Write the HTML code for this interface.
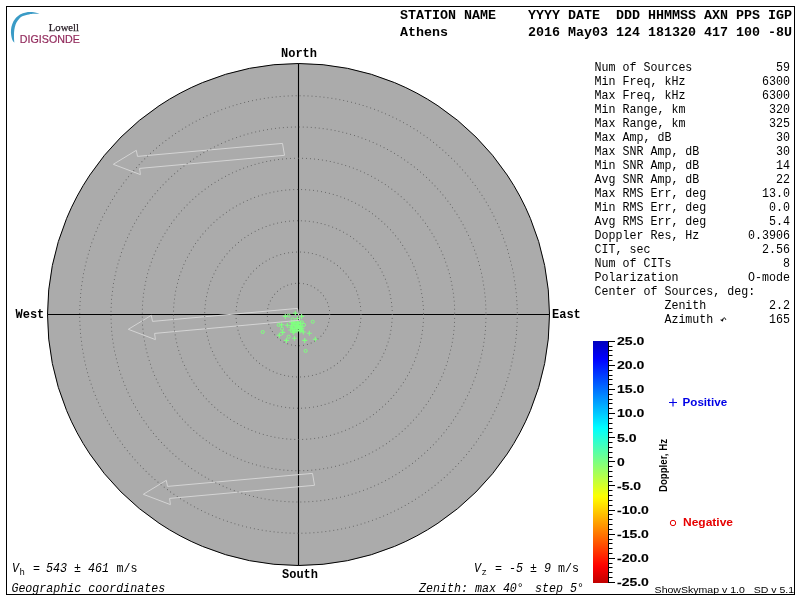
<!DOCTYPE html>
<html><head><meta charset="utf-8"><style>
html,body{margin:0;padding:0;background:#fff;width:800px;height:600px;overflow:hidden}
svg{display:block;will-change:transform}
.mono{font-family:"Liberation Mono",monospace}
.sans{font-family:"Liberation Sans",sans-serif}
</style></head><body>
<svg width="800" height="600" viewBox="0 0 800 600">
<defs><linearGradient id="jet" x1="0" y1="0" x2="0" y2="1"><stop offset="0.0000" stop-color="#0000bc"/><stop offset="0.0156" stop-color="#0000ca"/><stop offset="0.0312" stop-color="#0000d8"/><stop offset="0.0469" stop-color="#0000e6"/><stop offset="0.0625" stop-color="#0000f4"/><stop offset="0.0781" stop-color="#0003ff"/><stop offset="0.0938" stop-color="#0011ff"/><stop offset="0.1094" stop-color="#001fff"/><stop offset="0.1250" stop-color="#002dff"/><stop offset="0.1406" stop-color="#003bff"/><stop offset="0.1562" stop-color="#0049ff"/><stop offset="0.1719" stop-color="#0057ff"/><stop offset="0.1875" stop-color="#0065ff"/><stop offset="0.2031" stop-color="#0073ff"/><stop offset="0.2188" stop-color="#0081ff"/><stop offset="0.2344" stop-color="#008fff"/><stop offset="0.2500" stop-color="#009dff"/><stop offset="0.2656" stop-color="#00abff"/><stop offset="0.2812" stop-color="#00b9ff"/><stop offset="0.2969" stop-color="#00c6ff"/><stop offset="0.3125" stop-color="#00d4ff"/><stop offset="0.3281" stop-color="#00e2ff"/><stop offset="0.3438" stop-color="#00f0ff"/><stop offset="0.3594" stop-color="#00feff"/><stop offset="0.3750" stop-color="#0dfff1"/><stop offset="0.3906" stop-color="#1bffe3"/><stop offset="0.4062" stop-color="#29ffd5"/><stop offset="0.4219" stop-color="#37ffc7"/><stop offset="0.4375" stop-color="#45ffb9"/><stop offset="0.4531" stop-color="#53ffab"/><stop offset="0.4688" stop-color="#61ff9d"/><stop offset="0.4844" stop-color="#6fff8f"/><stop offset="0.5000" stop-color="#7dff81"/><stop offset="0.5156" stop-color="#8bff73"/><stop offset="0.5312" stop-color="#99ff65"/><stop offset="0.5469" stop-color="#a7ff57"/><stop offset="0.5625" stop-color="#b5ff49"/><stop offset="0.5781" stop-color="#c3ff3b"/><stop offset="0.5938" stop-color="#d1ff2d"/><stop offset="0.6094" stop-color="#dfff1f"/><stop offset="0.6250" stop-color="#edff11"/><stop offset="0.6406" stop-color="#fbff03"/><stop offset="0.6562" stop-color="#fff400"/><stop offset="0.6719" stop-color="#ffe600"/><stop offset="0.6875" stop-color="#ffd900"/><stop offset="0.7031" stop-color="#ffcb00"/><stop offset="0.7188" stop-color="#ffbd00"/><stop offset="0.7344" stop-color="#ffaf00"/><stop offset="0.7500" stop-color="#ffa100"/><stop offset="0.7656" stop-color="#ff9300"/><stop offset="0.7812" stop-color="#ff8500"/><stop offset="0.7969" stop-color="#ff7700"/><stop offset="0.8125" stop-color="#ff6900"/><stop offset="0.8281" stop-color="#ff5b00"/><stop offset="0.8438" stop-color="#ff4d00"/><stop offset="0.8594" stop-color="#ff3f00"/><stop offset="0.8750" stop-color="#ff3100"/><stop offset="0.8906" stop-color="#ff2300"/><stop offset="0.9062" stop-color="#ff1500"/><stop offset="0.9219" stop-color="#ff0700"/><stop offset="0.9375" stop-color="#f80000"/><stop offset="0.9531" stop-color="#ea0000"/><stop offset="0.9688" stop-color="#dc0000"/><stop offset="0.9844" stop-color="#ce0000"/><stop offset="1.0000" stop-color="#c00000"/></linearGradient></defs>
<rect x="0" y="0" width="800" height="600" fill="#fff"/>
<rect x="6.5" y="6.5" width="788" height="588" fill="none" stroke="#000" stroke-width="1"/>
<!-- logo -->
<path d="M39.40 13.70C38.17 13.43 34.23 12.32 32.00 12.10C29.77 11.88 28.00 11.98 26.00 12.40C24.00 12.82 21.80 13.53 20.00 14.60C18.20 15.67 16.50 17.20 15.20 18.80C13.90 20.40 12.90 22.37 12.20 24.20C11.50 26.03 11.17 27.97 11.00 29.80C10.83 31.63 10.97 33.50 11.20 35.20C11.43 36.90 11.87 38.73 12.40 40.00C12.93 41.27 14.07 42.33 14.40 42.80C14.35 42.33 14.17 41.30 14.10 40.00C14.03 38.70 13.97 36.67 14.00 35.00C14.03 33.33 14.03 31.75 14.30 30.00C14.57 28.25 14.98 26.13 15.60 24.50C16.22 22.87 16.88 21.58 18.00 20.20C19.12 18.82 20.47 17.17 22.30 16.20C24.13 15.23 27.05 14.80 29.00 14.40C30.95 14.00 32.27 13.92 34.00 13.80C35.73 13.68 38.50 13.72 39.40 13.70Z" fill="#3a9bc6"/>
<text x="48.8" y="30.6" font-family="Liberation Serif" font-size="11.4" fill="#2a2028" stroke="#2a2028" stroke-width="0.25" textLength="30.2" lengthAdjust="spacingAndGlyphs">Lowell</text>
<text x="19.8" y="43.3" font-family="Liberation Sans" font-size="11.6" fill="#922a5c" stroke="#922a5c" stroke-width="0.2" textLength="60" lengthAdjust="spacingAndGlyphs">DIGISONDE</text>
<!-- header -->
<g class="mono" font-weight="bold" font-size="13.333" fill="#000">
<text x="400" y="19" xml:space="preserve">STATION NAME    YYYY DATE  DDD HHMMSS AXN PPS IGP</text>
<text x="400" y="35.5" xml:space="preserve">Athens          2016 May03 124 181320 417 100 -8U</text>
</g>
<!-- plot -->
<circle cx="298.5" cy="314.5" r="251" fill="#ababab" stroke="#000" stroke-width="1"/>
<path d="M298.5 63.5V565.5M47.5 314.5H549.5" stroke="#000" stroke-width="1.1"/>
<path d="M292.8 313.3h5M295.3 310.8v5M282.8 316.4h5M285.3 313.9v5M299.1 316.4h5M301.6 313.9v5M279.1 324.7h5M281.6 322.2v5M284.8 325.3h5M287.3 322.8v5M306.8 333.3h5M309.3 330.8v5M300.8 332.0h5M303.3 329.5v5M280.2 332.4h5M282.7 329.9v5M276.8 335.3h5M279.3 332.8v5M291.9 338.3h5M294.4 335.8v5M283.9 340.4h5M286.4 337.9v5M302.2 340.4h5M304.7 337.9v5M312.8 339.3h5M315.3 336.8v5M290.8 332.4h5M293.3 329.9v5M288.2 330.0h5M290.7 327.5v5M295.1 318.5h5M297.6 316.0v5M289.0 322.5h5M291.5 320.0v5M292.0 321.8h5M294.5 319.3v5M295.0 322.3h5M297.5 319.8v5M298.0 323.0h5M300.5 320.5v5M289.5 325.5h5M292.0 323.0v5M292.5 325.0h5M295.0 322.5v5M295.5 325.6h5M298.0 323.1v5M298.5 326.2h5M301.0 323.7v5M290.5 328.5h5M293.0 326.0v5M293.5 328.0h5M296.0 325.5v5M296.5 328.8h5M299.0 326.3v5M299.5 328.3h5M302.0 325.8v5M288.5 327.3h5M291.0 324.8v5M294.5 330.5h5M297.0 328.0v5M297.5 331.0h5M300.0 328.5v5M292.0 331.0h5M294.5 328.5v5M291.0 323.5h5M293.5 321.0v5M294.0 326.5h5M296.5 324.0v5M297.0 327.0h5M299.5 324.5v5M290.0 330.0h5M292.5 327.5v5M296.0 323.5h5M298.5 321.0v5M299.0 330.0h5M301.5 327.5v5" stroke="#80ff80" stroke-width="1.1" fill="none"/>
<g fill="none" stroke="#80ff80" stroke-width="1"><circle cx="288.7" cy="315.6" r="1.55"/><circle cx="292.7" cy="319.3" r="1.55"/><circle cx="278.7" cy="324.9" r="1.55"/><circle cx="312.7" cy="321.7" r="1.55"/><circle cx="262.7" cy="332.0" r="1.55"/><circle cx="282.0" cy="328.7" r="1.55"/><circle cx="288.7" cy="336.7" r="1.55"/><circle cx="305.6" cy="350.9" r="1.55"/><circle cx="304.0" cy="324.9" r="1.55"/><circle cx="302.0" cy="322.3" r="1.55"/></g>
<g fill="none" stroke="#d4d4d4" stroke-width="1"><polygon points="282.5,143.4 137.5,156.4 136.3,150.3 113.3,164.3 140.4,174.6 139.6,168.4 284.5,155.3"/><polygon points="297.5,308.4 152.5,321.4 151.3,315.3 128.3,329.3 155.4,339.6 154.6,333.4 299.5,320.3"/><polygon points="312.5,473.4 167.5,486.4 166.3,480.3 143.3,494.3 170.4,504.6 169.6,498.4 314.5,485.3"/></g>
<g fill="none" stroke="#555" stroke-width="0.95" stroke-dasharray="0 4" stroke-linecap="round"><circle cx="298.5" cy="314.5" r="31.25"/><circle cx="298.5" cy="314.5" r="62.50"/><circle cx="298.5" cy="314.5" r="93.75"/><circle cx="298.5" cy="314.5" r="125.00"/><circle cx="298.5" cy="314.5" r="156.25"/><circle cx="298.5" cy="314.5" r="187.50"/><circle cx="298.5" cy="314.5" r="218.75"/></g>
<g class="mono" font-weight="bold" font-size="12" fill="#000">
<text x="281" y="57">North</text>
<text x="282" y="578">South</text>
<text x="15.5" y="318">West</text>
<text x="552" y="318">East</text>
</g>
<!-- stats -->
<g class="mono" font-size="12.3" fill="#000" transform="scale(0.94851,1)"><text x="626.77" y="70.6">Num of Sources</text><text x="832.89" y="70.6" text-anchor="end">59</text><text x="626.77" y="84.6">Min Freq, kHz</text><text x="832.89" y="84.6" text-anchor="end">6300</text><text x="626.77" y="98.6">Max Freq, kHz</text><text x="832.89" y="98.6" text-anchor="end">6300</text><text x="626.77" y="112.6">Min Range, km</text><text x="832.89" y="112.6" text-anchor="end">320</text><text x="626.77" y="126.6">Max Range, km</text><text x="832.89" y="126.6" text-anchor="end">325</text><text x="626.77" y="140.6">Max Amp, dB</text><text x="832.89" y="140.6" text-anchor="end">30</text><text x="626.77" y="154.6">Max SNR Amp, dB</text><text x="832.89" y="154.6" text-anchor="end">30</text><text x="626.77" y="168.6">Min SNR Amp, dB</text><text x="832.89" y="168.6" text-anchor="end">14</text><text x="626.77" y="182.6">Avg SNR Amp, dB</text><text x="832.89" y="182.6" text-anchor="end">22</text><text x="626.77" y="196.6">Max RMS Err, deg</text><text x="832.89" y="196.6" text-anchor="end">13.0</text><text x="626.77" y="210.6">Min RMS Err, deg</text><text x="832.89" y="210.6" text-anchor="end">0.0</text><text x="626.77" y="224.6">Avg RMS Err, deg</text><text x="832.89" y="224.6" text-anchor="end">5.4</text><text x="626.77" y="238.6">Doppler Res, Hz</text><text x="832.89" y="238.6" text-anchor="end">0.3906</text><text x="626.77" y="252.6">CIT, sec</text><text x="832.89" y="252.6" text-anchor="end">2.56</text><text x="626.77" y="266.6">Num of CITs</text><text x="832.89" y="266.6" text-anchor="end">8</text><text x="626.77" y="280.6">Polarization</text><text x="832.89" y="280.6" text-anchor="end">O-mode</text><text x="626.77" y="294.6">Center of Sources, deg:</text><text x="626.77" y="308.6">          Zenith</text><text x="832.89" y="308.6" text-anchor="end">2.2</text><text x="626.77" y="322.6">          Azimuth</text><text x="832.89" y="322.6" text-anchor="end">165</text></g>
<path d="M722.6 320.2 C722.8 317.8 725 316.6 725.8 319.8" fill="none" stroke="#000" stroke-width="1"/><path d="M720 319.8 L723.6 319.2 L722.6 321.8 Z" fill="#000"/>
<!-- colorbar -->
<rect x="593" y="341" width="15.5" height="242" fill="url(#jet)"/>
<path d="M608.5 341V583M608.5 341.50h6.5M608.5 346.50h4M608.5 350.50h4M608.5 355.50h4M608.5 360.50h4M608.5 365.50h6.5M608.5 370.50h4M608.5 375.50h4M608.5 379.50h4M608.5 384.50h4M608.5 389.50h6.5M608.5 394.50h4M608.5 399.50h4M608.5 403.50h4M608.5 408.50h4M608.5 413.50h6.5M608.5 418.50h4M608.5 423.50h4M608.5 428.50h4M608.5 432.50h4M608.5 437.50h6.5M608.5 442.50h4M608.5 447.50h4M608.5 452.50h4M608.5 457.50h4M608.5 461.50h6.5M608.5 466.50h4M608.5 471.50h4M608.5 476.50h4M608.5 481.50h4M608.5 485.50h6.5M608.5 490.50h4M608.5 495.50h4M608.5 500.50h4M608.5 505.50h4M608.5 510.50h6.5M608.5 514.50h4M608.5 519.50h4M608.5 524.50h4M608.5 529.50h4M608.5 534.50h6.5M608.5 539.50h4M608.5 543.50h4M608.5 548.50h4M608.5 553.50h4M608.5 558.50h6.5M608.5 563.50h4M608.5 567.50h4M608.5 572.50h4M608.5 577.50h4M608.5 582.50h6.5" stroke="#000" stroke-width="1" fill="none"/>
<g class="sans" font-weight="bold" font-size="10.9" fill="#000" stroke="#000" stroke-width="0.12"><text x="617" y="345.1" textLength="27.35" lengthAdjust="spacingAndGlyphs">25.0</text><text x="617" y="369.2" textLength="27.35" lengthAdjust="spacingAndGlyphs">20.0</text><text x="617" y="393.3" textLength="27.35" lengthAdjust="spacingAndGlyphs">15.0</text><text x="617" y="417.4" textLength="27.35" lengthAdjust="spacingAndGlyphs">10.0</text><text x="617" y="441.5" textLength="19.60" lengthAdjust="spacingAndGlyphs">5.0</text><text x="617" y="465.6" textLength="7.75" lengthAdjust="spacingAndGlyphs">0</text><text x="617" y="489.7" textLength="24.10" lengthAdjust="spacingAndGlyphs">-5.0</text><text x="617" y="513.8" textLength="31.85" lengthAdjust="spacingAndGlyphs">-10.0</text><text x="617" y="537.9" textLength="31.85" lengthAdjust="spacingAndGlyphs">-15.0</text><text x="617" y="562.0" textLength="31.85" lengthAdjust="spacingAndGlyphs">-20.0</text><text x="617" y="586.1" textLength="31.85" lengthAdjust="spacingAndGlyphs">-25.0</text></g>
<text transform="translate(666.9,492) rotate(-90)" class="sans" font-weight="bold" font-size="10.8" fill="#000" textLength="53" lengthAdjust="spacingAndGlyphs">Doppler, Hz</text>
<g fill="#0000e6"><path d="M669 402.5h8M673 398.5v8" stroke="#0000e6" stroke-width="1.1"/>
<text x="682.6" y="406" class="sans" font-weight="bold" font-size="10" textLength="44.5" lengthAdjust="spacingAndGlyphs">Positive</text></g>
<g fill="#e60000"><circle cx="673" cy="523" r="2.7" fill="none" stroke="#e60000" stroke-width="1"/>
<text x="683" y="526" class="sans" font-weight="bold" font-size="10" textLength="50" lengthAdjust="spacingAndGlyphs">Negative</text></g>
<!-- bottom texts -->
<g class="mono" font-size="12.3" fill="#000" transform="scale(0.94851,1)" xml:space="preserve"><text x="12.65" y="572" font-style="italic">V</text><text x="20.56" y="575.5" font-size="9.5">h</text><text x="34.79" y="572">=</text><text x="48.50" y="572" font-style="italic">543</text><text x="78.02" y="572">±</text><text x="92.78" y="572" font-style="italic">461</text><text x="122.82" y="572">m/s</text><text x="12.02" y="592" font-style="italic">Geographic coordinates</text><text x="499.73" y="572" font-style="italic">V</text><text x="507.64" y="575.5" font-size="9.5">z</text><text x="521.87" y="572">=</text><text x="536.63" y="572" font-style="italic">-5</text><text x="558.77" y="572">±</text><text x="573.53" y="572" font-style="italic">9</text><text x="588.29" y="572">m/s</text><text x="441.75" y="592" font-style="italic">Zenith: max 40°</text><text x="564.04" y="592" font-style="italic">step 5°</text></g>
<text x="654.6" y="592.6" class="sans" font-size="9.8" fill="#000" textLength="139.5" lengthAdjust="spacingAndGlyphs" xml:space="preserve">ShowSkymap v 1.0   SD v 5.1</text>
</svg>
</body></html>
